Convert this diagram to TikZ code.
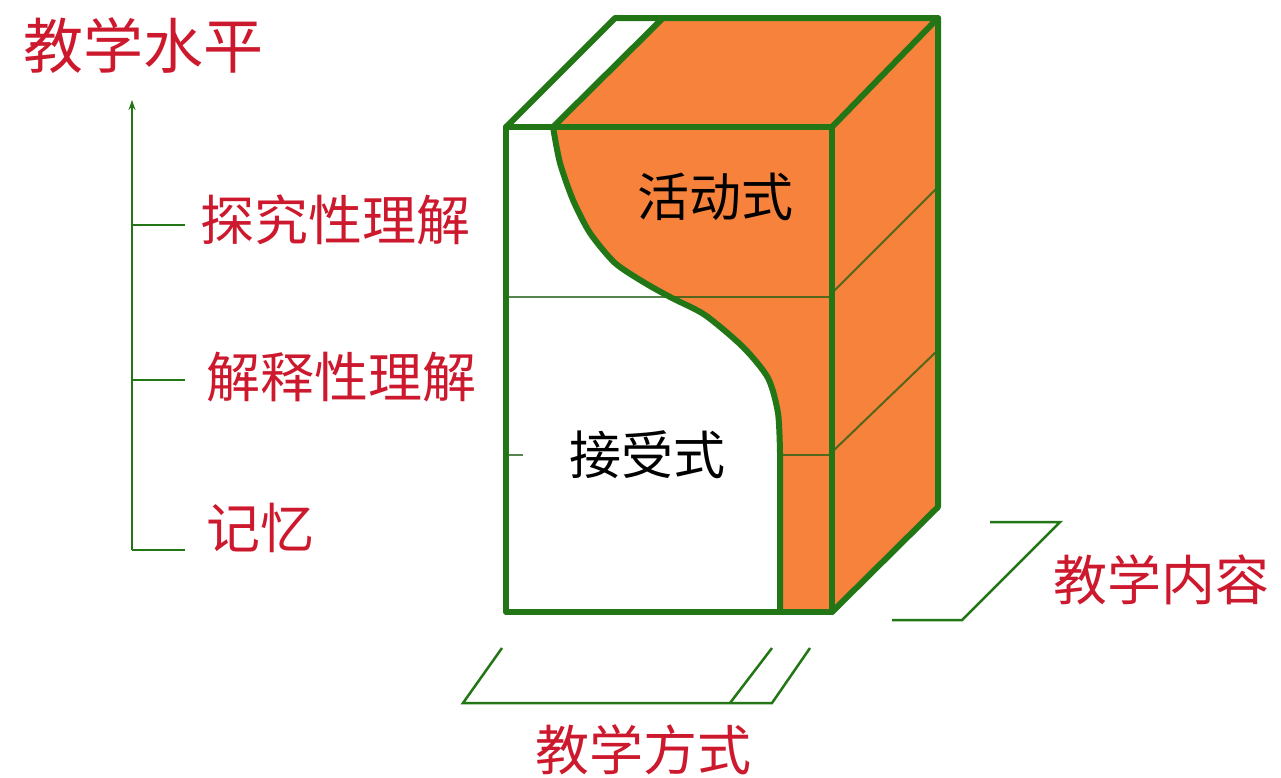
\documentclass[tikz,border=0pt]{standalone}
\usepackage{fontspec}
\usetikzlibrary{arrows.meta}
\newfontfamily\cjk{Noto Sans CJK SC}
\definecolor{boxgreen}{RGB}{35,118,22}
\definecolor{orangefill}{RGB}{246,130,60}
\definecolor{labelred}{RGB}{205,25,45}
\tikzset{
  thick edge/.style={draw=boxgreen, line width=6pt, line join=round, line cap=round},
  thin edge/.style={draw=boxgreen!80!black, line width=2pt, draw opacity=0.75},
  guide/.style={draw=boxgreen, line width=2.5pt},
  redlabel/.style={text=labelred, font=\cjk\fontsize{54}{60}\selectfont, inner sep=0pt},
  blacklabel/.style={text=black, font=\cjk\fontsize{52}{58}\selectfont, inner sep=0pt},
}
\begin{document}
\begin{tikzpicture}[x=1pt,y=-1pt]
\useasboundingbox (0,0) rectangle (1281,777);
% key corners
\coordinate (FTL) at (506,127);
\coordinate (FTR) at (832,127);
\coordinate (FBL) at (506,612);
\coordinate (FBR) at (832,612);
\coordinate (BTL) at (615,18);
\coordinate (BTR) at (938,18);
\coordinate (BBR) at (938,507);
\coordinate (CT) at (553,127);
\coordinate (CTB) at (663,18);
\coordinate (CB) at (780,612);
% fills
\fill[white] (FTL) rectangle (FBR);
\fill[orangefill] plot[smooth, tension=0.45] coordinates {(553,127) (560,163) (573,200) (590,233) (615,263) (645,283) (672,298) (705,315) (743,347) (768,378) (778,413) (780,453)} -- (CB) -- (FBR) -- (FTR) -- cycle;
\fill[orangefill] (CT) -- (CTB) -- (BTR) -- (FTR) -- cycle;
\fill[orangefill] (FTR) -- (BTR) -- (BBR) -- (FBR) -- cycle;
% thin level lines
\draw[thin edge] (506,297) -- (832,297);
\draw[thin edge] (780,455) -- (832,455);
\draw[thin edge] (506,455) -- (523,455);
\draw[thin edge] (832,293) -- (938,187);
\draw[thin edge] (832,452) -- (938,350);
% boundary curve
\draw[thick edge] plot[smooth, tension=0.45] coordinates {(553,127) (560,163) (573,200) (590,233) (615,263) (645,283) (672,298) (705,315) (743,347) (768,378) (778,413) (780,453)} -- (CB);
\draw[thick edge] (CT) -- (CTB);
% box edges
\draw[thick edge] (FTL) rectangle (FBR);
\draw[thick edge] (FTL) -- (BTL) -- (BTR) -- (FTR);
\draw[thick edge] (BTR) -- (BBR) -- (FBR);
% left axis
\coordinate (AxB) at (132,550);
\coordinate (AxT) at (132,100);
\coordinate (T1) at (185,225);
\coordinate (T2) at (185,380);
\coordinate (T3) at (185,550);
\draw[guide, -{Stealth[length=10pt,width=7pt]}] (AxB) -- (AxT);
\draw[guide] (132,225) -- (T1);
\draw[guide] (132,380) -- (T2);
\draw[guide] (AxB) -- (T3);
% bottom bracket
\coordinate (B1) at (502,648);
\coordinate (B2) at (463,703);
\coordinate (B3) at (772,703);
\draw[guide] (B1) -- (B2) -- (B3) -- (810,648);
\draw[guide] (730,703) -- (772,648);
% right bracket
\coordinate (R1) at (990,522);
\coordinate (R2) at (1060,522);
\coordinate (R3) at (962,620);
\coordinate (R4) at (892,620);
\draw[guide] (R1) -- (R2) -- (R3) -- (R4);
% labels
\node[redlabel, font=\cjk\fontsize{60}{66}\selectfont] (level) at (143,46) {教学水平};
\node[redlabel] (l1) at (335,220) {探究性理解};
\node[redlabel] (l2) at (341,377) {解释性理解};
\node[redlabel] (l3) at (260,528) {记忆};
\node[redlabel] (content) at (1161,580) {教学内容};
\node[redlabel] (method) at (643,750) {教学方式};
\node[blacklabel] (active) at (715,197) {活动式};
\node[blacklabel] (receive) at (647,455) {接受式};
\end{tikzpicture}
\end{document}
